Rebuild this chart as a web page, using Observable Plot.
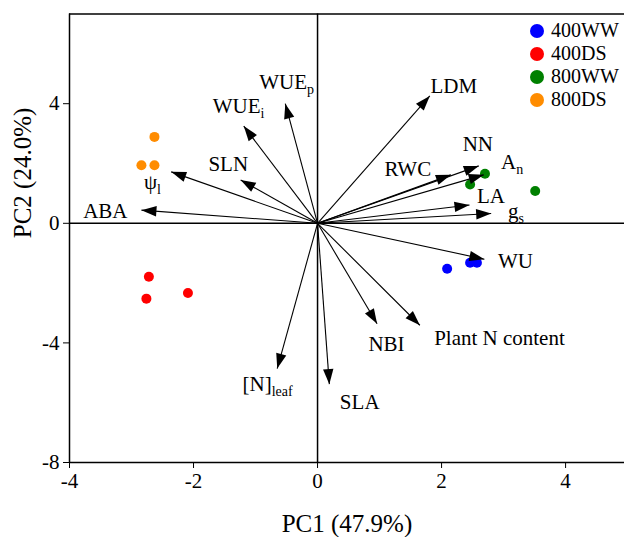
<!DOCTYPE html>
<html><head><meta charset="utf-8">
<script src="https://cdn.jsdelivr.net/npm/d3@7"></script>
<script src="https://cdn.jsdelivr.net/npm/@observablehq/plot@0.6"></script>
<style>
body{margin:0;background:#fff}
#wrap{position:relative;width:624px;height:537px;overflow:hidden}
#legend{position:absolute;left:530px;top:19px;font-family:"Liberation Serif",serif;font-size:20px;color:#000}
#legend .row{display:flex;align-items:center;height:23px}
#legend .sw{width:14px;height:14px;border-radius:50%;margin-right:7px}
</style>
</head><body><div id="wrap"></div>
<script>
// Variable loadings (arrows)
const varNames = ["ABA","ψ_l","SLN","WUE_i","WUE_p","LDM","RWC","NN","A_n","LA","g_s","WU","Plant N content","NBI","SLA","[N]_leaf"];
const loadPC1 = [-2.84,-2.36,-1.24,-1.19,-0.52,1.81,2.15,2.60,2.68,2.45,2.80,2.69,1.65,0.96,0.19,-0.65];
const loadPC2 = [0.44,1.72,1.45,3.25,4.00,4.26,1.62,1.92,1.62,0.61,0.33,-1.20,-3.41,-3.36,-5.38,-4.86];
// Label anchor (start of text) in PC units
const labelPC1 = [-3.78,-2.80,-1.76,-1.69,-0.94,1.82,1.08,2.34,2.96,2.57,3.07,2.91,1.88,0.82,0.36,-1.21];
const labelPC2 = [0.41,1.36,1.99,3.92,4.73,4.59,1.81,2.64,2.03,0.91,0.39,-1.26,-3.86,-4.05,-5.98,-5.38];
// Observation scores
const groups = ["400WW","400DS","800WW","800DS"];
const groupColors = ["#0000ff","#ff0000","#008000","#ff8c00"];
const scoreGroup = ["400WW","400WW","400WW","400DS","400DS","400DS","800WW","800WW","800WW","800DS","800DS","800DS"];
const scorePC1 = [2.09,2.46,2.57,-2.72,-2.76,-2.09,2.70,2.46,3.51,-2.63,-2.84,-2.63];
const scorePC2 = [-1.52,-1.32,-1.32,-1.79,-2.52,-2.33,1.66,1.30,1.08,2.89,1.94,1.94];
// Axes
const xTicks = [-4,-2,0,2,4];
const yTicks = [-8,-4,0,4];
const xTitle = "PC1 (47.9%)";
const yTitle = "PC2 (24.0%)";

const loadings = varNames.map((n,i)=>({name:n, x:loadPC1[i], y:loadPC2[i], lx:labelPC1[i], ly:labelPC2[i]}));
const scores = scoreGroup.map((g,i)=>({group:g, x:scorePC1[i], y:scorePC2[i]}));

const plot = Plot.plot({
  width: 624, height: 537,
  marginLeft: 69, marginRight: 0, marginTop: 13.5, marginBottom: 75,
  style: {fontFamily: "Liberation Serif, serif", fontSize: "21px", color: "#000", background: "#fff"},
  x: {domain: [-4, 4.95], ticks: xTicks, tickFormat: d => String(d), tickSize: 6, tickPadding: 5, label: null},
  y: {domain: [-8, 7], ticks: yTicks, tickFormat: d => String(d), tickSize: 6, tickPadding: 4, label: null},
  color: {domain: groups, range: groupColors},
  marks: [
    Plot.ruleX([-4], {y1: -8, y2: 7, stroke: "#000", strokeWidth: 1.5}),
    Plot.ruleY([7, -8], {x1: -4, x2: 4.95, stroke: "#000", strokeWidth: 1.5}),
    Plot.ruleX([0], {y1: -8, y2: 7, stroke: "#000", strokeWidth: 1.5}),
    Plot.ruleY([0], {x1: -4, x2: 4.95, stroke: "#000", strokeWidth: 1.5}),
    Plot.dot(scores, {x: "x", y: "y", fill: "group", r: 5}),
    Plot.link(loadings, {x1: () => 0, y1: () => 0, x2: "x", y2: "y", stroke: "#000", strokeWidth: 1.1}),
    Plot.text(loadings, {x: "lx", y: "ly", text: "name", textAnchor: "start", lineAnchor: "middle", fontSize: 21, fill: "#000"}),
    Plot.text([xTitle], {frameAnchor: "bottom", dy: 61, lineAnchor: "middle", fontSize: 25, fill: "#000"}),
    Plot.text([yTitle], {frameAnchor: "left", dx: -47, rotate: -90, lineAnchor: "middle", fontSize: 25, fill: "#000"})
  ]
});

// Arrowheads
const ns = "http://www.w3.org/2000/svg";
const defs = document.createElementNS(ns, "defs");
const marker = document.createElementNS(ns, "marker");
marker.setAttribute("id", "ahead");
marker.setAttribute("markerUnits", "userSpaceOnUse");
marker.setAttribute("orient", "auto");
marker.setAttribute("markerWidth", "20");
marker.setAttribute("markerHeight", "14");
marker.setAttribute("viewBox", "-16 -7 20 14");
marker.setAttribute("refX", "0");
marker.setAttribute("refY", "0");
marker.setAttribute("overflow", "visible");
const mp = document.createElementNS(ns, "path");
mp.setAttribute("d", "M0,0L-15,-5.2L-15,5.2Z");
mp.setAttribute("fill", "#000");
marker.appendChild(mp);
defs.appendChild(marker);
plot.insertBefore(defs, plot.firstChild);
plot.querySelectorAll('g[aria-label="link"] path').forEach(p => p.setAttribute("marker-end", "url(#ahead)"));

// Subscripts
plot.querySelectorAll("text").forEach(t => {
  const s = t.textContent;
  if (s.includes("_") && t.childElementCount === 0) {
    const [main, sub] = s.split("_");
    t.textContent = main;
    const ts = document.createElementNS(ns, "tspan");
    ts.setAttribute("font-size", "14");
    ts.setAttribute("dy", "5");
    ts.textContent = sub;
    t.appendChild(ts);
  }
});

const wrap = document.getElementById("wrap");
wrap.appendChild(plot);

// Legend
const leg = document.createElement("div");
leg.id = "legend";
groups.forEach((g,i) => {
  const row = document.createElement("div"); row.className = "row";
  const sw = document.createElement("div"); sw.className = "sw"; sw.style.background = groupColors[i];
  const lb = document.createElement("span"); lb.textContent = g;
  row.appendChild(sw); row.appendChild(lb); leg.appendChild(row);
});
wrap.appendChild(leg);
</script>
</body></html>
